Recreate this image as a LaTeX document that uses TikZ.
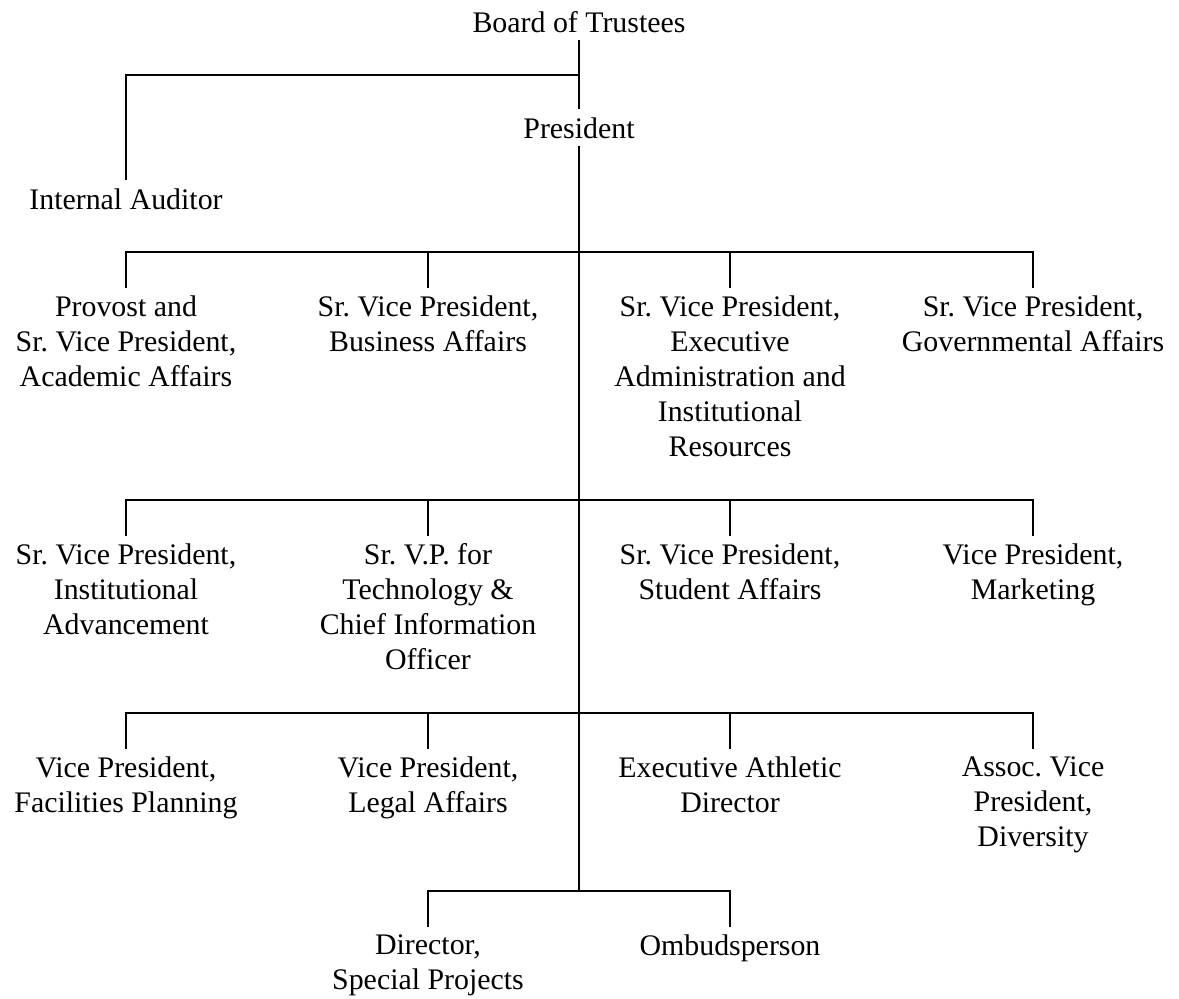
\documentclass[tikz,border=0pt]{standalone}
\usepackage{fontspec}
\setmainfont{Liberation Serif}
\usepackage{tikz}
\frenchspacing

\tikzset{
  unit/.style={align=center, anchor=north, inner sep=0pt, outer sep=4.5pt},
  head/.style={anchor=base, inner sep=0pt, outer sep=4.5pt},
  link/.style={line width=1.3pt}
}

\begin{document}
\begin{tikzpicture}[x=0.02cm, y=-0.02cm, font=\fontsize{17}{19.9}\selectfont]
  \useasboundingbox (0,0) rectangle (1179,998);
  \node[head] (board) at (579,32) {Board of Trustees};
  \node[head] (pres) at (579,138) {President};
  \node[head] (audit) at (126,209) {Internal Auditor};
  \coordinate (j0) at (579,75);
  \coordinate (r1) at (579,252);
  \coordinate (r2) at (579,500);
  \coordinate (r3) at (579,713);
  \coordinate (r4) at (579,891);
  \node[unit] (prov) at (126,288) {Provost and\\Sr. Vice President,\\Academic Affairs};
  \node[unit] (svpb) at (428,288) {Sr. Vice President,\\Business Affairs};
  \node[unit] (svpe) at (730,288) {Sr. Vice President,\\Executive\\Administration and\\Institutional\\Resources};
  \node[unit] (svpg) at (1033,288) {Sr. Vice President,\\Governmental Affairs};
  \node[unit] (svpi) at (126,536) {Sr. Vice President,\\Institutional\\Advancement};
  \node[unit] (svpt) at (428,536) {Sr. V.P. for\\Technology \&\\Chief Information\\Officer};
  \node[unit] (svps) at (730,536) {Sr. Vice President,\\Student Affairs};
  \node[unit] (vpm) at (1033,536) {Vice President,\\Marketing};
  \node[unit] (vpf) at (126,749) {Vice President,\\Facilities Planning};
  \node[unit] (vpl) at (428,749) {Vice President,\\Legal Affairs};
  \node[unit] (ead) at (730,749) {Executive Athletic\\Director};
  \node[unit] (avpd) at (1033,749) {Assoc. Vice\\President,\\Diversity};
  \node[unit] (dsp) at (428,927) {Director,\\Special Projects};
  \node[unit] (omb) at (730,927) {Ombudsperson};
  \draw[link] (board) -- (pres);
  \draw[link] (j0) -| (audit);
  \draw[link] (pres) -- (r4);
  \foreach \n in {prov,svpb,svpe,svpg} \draw[link] (r1) -| (\n);
  \foreach \n in {svpi,svpt,svps,vpm} \draw[link] (r2) -| (\n);
  \foreach \n in {vpf,vpl,ead,avpd} \draw[link] (r3) -| (\n);
  \foreach \n in {dsp,omb} \draw[link] (r4) -| (\n);
\end{tikzpicture}
\end{document}
